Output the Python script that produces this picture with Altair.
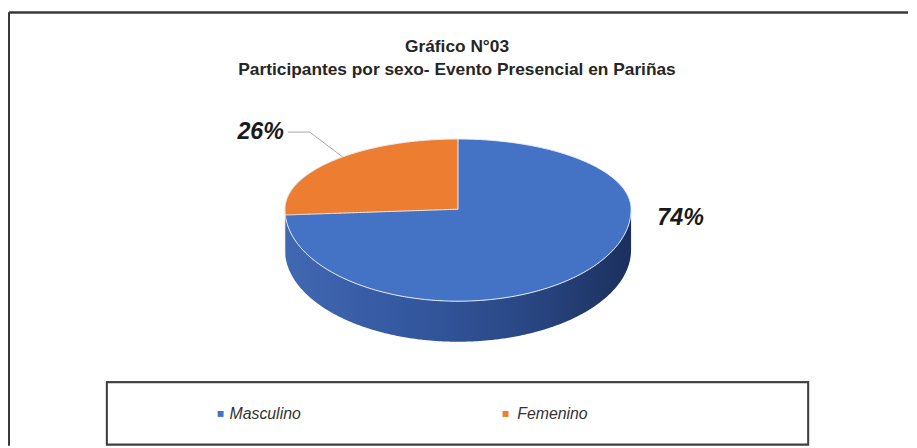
import numpy as np
import pandas as pd
import altair as alt

# ---------------- data ----------------
categories = ["Masculino", "Femenino"]
shares = [74, 26]
slice_colors = ["#4472C4", "#ED7D31"]
label_texts = ["74%", "26%"]
title_lines = ["Gráfico N°03", "Participantes por sexo- Evento Presencial en Pariñas"]

# ---------------- layout (pixels inside the chart) ----------------
W, H = 909, 440
CX, CY = 454, 201          # pie centre
RX, RY_TOP, RY_BOT = 175, 71, 93   # ellipse radii (back / front half)
DEPTH = 41                 # 3D thickness

total = float(sum(shares))
starts = np.cumsum([0] + shares[:-1]) / total * 360.0
ends = np.cumsum(shares) / total * 360.0


def pt(theta_deg):
    t = np.radians(theta_deg)
    ry = RY_TOP if np.cos(t) >= 0 else RY_BOT
    return CX + RX * np.sin(t), CY - ry * np.cos(t)


# top face: full ellipse in colour of first slice
s = np.linspace(0, 1, 241)
top_full = pd.DataFrame({
    "x": CX - RX * np.cos(np.pi * s),
    "y": CY - RY_TOP * np.sin(np.pi * s),
    "y2": CY + RY_BOT * np.sin(np.pi * s),
    "cat": categories[0],
})

# second slice wedge (from starts[1] to 360, back-left quadrant)
ex, ey = pt(starts[1])
s2 = np.linspace(0, 0.5, 160)
xs = np.sort(np.append(CX - RX * np.cos(np.pi * s2), ex))
u = np.clip((xs - CX) / RX, -1, 1)
upper = CY - RY_TOP * np.sqrt(1 - u ** 2)
lower_arc = CY + RY_BOT * np.sqrt(1 - u ** 2)
radius_line = CY + (ey - CY) * (xs - CX) / (ex - CX)
wedge = pd.DataFrame({
    "x": xs, "y": upper, "y2": np.minimum(lower_arc, radius_line), "cat": categories[1],
})

# side (front half) split by slice
s3 = np.linspace(0, 1, 361)
theta = 270 - 180 * s3
sx = CX - RX * np.cos(np.pi * s3)
sy = CY + RY_BOT * np.sin(np.pi * s3)
side = pd.DataFrame({"x": sx, "y": sy, "y2": sy + DEPTH, "theta": theta})
side_main = side[side["theta"] <= starts[1]]
side_second = side[side["theta"] >= starts[1]]

# leader line for second slice label
mid2 = (starts[1] + ends[1]) / 2 + 5
lx, ly = pt(mid2)
elbow_x, elbow_y = 304, 123
leader = pd.DataFrame({
    "x": [lx, elbow_x, elbow_x - 22],
    "y": [ly, elbow_y, elbow_y],
    "o": [0, 1, 2],
})

labels = pd.DataFrame({
    "x": [CX + RX + 50, elbow_x - 26],
    "y": [CY + 9, elbow_y],
    "t": label_texts,
})

titles = pd.DataFrame({"x": [453, 453], "y": [37, 60], "t": title_lines})

legend = pd.DataFrame({
    "cat": categories,
    "mx": [214, 502],
    "tx": [223, 514],
    "y": [408, 408],
})

xs_ = alt.Scale(domain=[0, W], nice=False, zero=False)
ys_ = alt.Scale(domain=[0, H], nice=False, zero=False, reverse=True)
X = lambda f: alt.X(f, type="quantitative", scale=xs_, axis=None)
Y = lambda f: alt.Y(f, type="quantitative", scale=ys_, axis=None)

color_scale = alt.Scale(domain=categories, range=slice_colors)

blue_grad = alt.Gradient(
    gradient="linear", x1=0, x2=1, y1=0, y2=0,
    stops=[alt.GradientStop(color="#4168b2", offset=0),
           alt.GradientStop(color="#3458a0", offset=0.35),
           alt.GradientStop(color="#2a4784", offset=0.7),
           alt.GradientStop(color="#1b305e", offset=1)],
)
orange_grad = alt.Gradient(
    gradient="linear", x1=0, x2=1, y1=0, y2=0,
    stops=[alt.GradientStop(color="#c9651f", offset=0),
           alt.GradientStop(color="#a8521a", offset=1)],
)

side_main_l = alt.Chart(side_main).mark_area(orient="vertical", color=blue_grad).encode(
    x=X("x"), y=Y("y"), y2="y2")
side_second_l = alt.Chart(side_second).mark_area(orient="vertical", color=orange_grad).encode(
    x=X("x"), y=Y("y"), y2="y2")

top_l = alt.Chart(top_full).mark_area(orient="vertical", stroke="#e8eef8", strokeWidth=1).encode(
    x=X("x"), y=Y("y"), y2="y2",
    color=alt.Color("cat:N", scale=color_scale, legend=None))
wedge_l = alt.Chart(wedge).mark_area(orient="vertical", stroke="#f2f2f2", strokeWidth=1).encode(
    x=X("x"), y=Y("y"), y2="y2",
    color=alt.Color("cat:N", scale=color_scale, legend=None))

leader_l = alt.Chart(leader).mark_line(color="#a6a6a6", strokeWidth=1).encode(
    x=X("x"), y=Y("y"), order="o:Q")

label_main = alt.Chart(labels.iloc[[0]]).mark_text(
    font="Liberation Sans", fontSize=23.5, fontWeight="bold", fontStyle="italic",
    color="#1a1a1a", align="center", baseline="middle").encode(x=X("x"), y=Y("y"), text="t:N")
label_second = alt.Chart(labels.iloc[[1]]).mark_text(
    font="Liberation Sans", fontSize=23.5, fontWeight="bold", fontStyle="italic",
    color="#1a1a1a", align="right", baseline="middle").encode(x=X("x"), y=Y("y"), text="t:N")

title_l = alt.Chart(titles).mark_text(
    font="Liberation Sans", fontSize=17.5, fontWeight="bold", color="#262626",
    align="center", baseline="middle").encode(x=X("x"), y=Y("y"), text="t:N")

legend_box = alt.Chart(legend).mark_rect(fill="white", stroke="#404040", strokeWidth=2).encode(
    x=alt.value(99), x2=alt.value(808), y=alt.value(376), y2=alt.value(439))
legend_sym = alt.Chart(legend).mark_square(size=36, opacity=1).encode(
    x=X("mx"), y=Y("y"), color=alt.Color("cat:N", scale=color_scale, legend=None))
legend_txt = alt.Chart(legend).mark_text(
    font="Liberation Sans", fontSize=16, fontStyle="italic", color="#333333",
    align="left", baseline="middle").encode(x=X("tx"), y=Y("y"), text="cat:N")

frame_top = alt.Chart(legend).mark_rule(color="#3a3a3a", strokeWidth=2).encode(
    x=alt.value(0), x2=alt.value(W), y=alt.value(2))
frame_left = alt.Chart(legend).mark_rule(color="#3a3a3a", strokeWidth=2).encode(
    x=alt.value(0), y=alt.value(2), y2=alt.value(H))

chart = alt.layer(
    frame_top, frame_left,
    side_main_l, side_second_l, top_l, wedge_l,
    leader_l, label_main, label_second, title_l,
    legend_box, legend_sym, legend_txt,
).properties(width=W, height=H, padding=0, background="white").configure_view(stroke=None)

chart.save("out.html", embed_options={"renderer": "svg", "actions": False})
